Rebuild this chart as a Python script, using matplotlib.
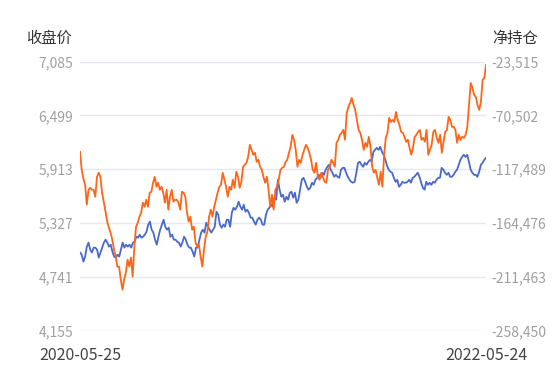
import pandas as pd
import numpy as np
import matplotlib
matplotlib.use('Agg')
import matplotlib.pyplot as plt

plt.rcParams['font.family'] = ['Noto Sans CJK SC', 'DejaVu Sans']

# ---------------- 数据 ----------------
start_date = '2020-05-25'
end_date = '2022-05-24'

# 收盘价（左轴）
close_price = [
    6101, 5905, 5808, 5742, 5525, 5688, 5710, 5688, 5688, 5612,
    5829, 5873, 5829, 5655, 5558, 5449, 5340, 5275, 5221, 5145,
    5036, 4960, 4851, 4851, 4710, 4601, 4710, 4786, 4927, 4851,
    4949, 4742, 5069, 5286, 5329, 5395, 5438, 5547, 5503, 5579,
    5503, 5655, 5666, 5764, 5829, 5721, 5764, 5688, 5721, 5655,
    5547, 5688, 5471, 5612, 5688, 5558, 5579, 5579, 5547, 5471,
    5666, 5655, 5612, 5438, 5340, 5395, 5253, 5286, 5112, 5069,
    5090, 4960, 4851, 5036, 5177, 5232, 5395, 5471, 5395, 5503,
    5579, 5655, 5721, 5742, 5873, 5797, 5721, 5612, 5721, 5688,
    5797, 5710, 5884, 5829, 5710, 5775, 5938, 5960, 5982, 6047,
    6177, 6123, 6069, 6090, 5992, 6014, 5938, 5905, 5829, 5764,
    5829, 5688, 5503, 5634, 5471, 5688, 5721, 5797, 5905, 5927,
    5938, 5992, 6014, 6090, 6156, 6286, 6232, 6123, 5938, 6014,
    5982, 6069, 6123, 6177, 6145, 6090, 6014, 5905, 5873, 5982,
    5829, 5797, 5873, 5829, 5775, 5764, 5905, 5938, 6014, 5982,
    5938, 6199, 6232, 6286, 6308, 6340, 6232, 6525, 6590, 6634,
    6688, 6612, 6558, 6449, 6340, 6308, 6232, 6123, 6199, 6156,
    6264, 6156, 5938, 5873, 5905, 5818, 5742, 5884, 5721, 6069,
    6253, 6308, 6471, 6427, 6449, 6427, 6536, 6449, 6395, 6319,
    6308, 6264, 6210, 6232, 6145, 6069, 6145, 6264, 6286, 6319,
    6340, 6232, 6253, 6210, 6340, 6069, 6123, 6177, 6319, 6340,
    6253, 6199, 6286, 6090, 6210, 6319, 6340, 6482, 6449, 6373,
    6373, 6340, 6199, 6286, 6232, 6264, 6253, 6286, 6373, 6612,
    6851, 6797, 6721, 6699, 6612, 6558, 6645, 6884, 6906, 7047,
]

# 净持仓（右轴）
net_position = [
    -190400, -192200, -198300, -193900, -185200, -181700, -187800, -190400, -186100, -186100,
    -187800, -194800, -190400, -186100, -181700, -179100, -181700, -185200, -183500, -189600,
    -193900, -194800, -192200, -193900, -187800, -181700, -186100, -183500, -185200, -183500,
    -186100, -181700, -180900, -176500, -177400, -174800, -177400, -176500, -174800, -172100,
    -166000, -163400, -170400, -173000, -179100, -183500, -176500, -170400, -166000, -161700,
    -167800, -170400, -168700, -176500, -174800, -179100, -179100, -180900, -181700, -185200,
    -181700, -176500, -179100, -183500, -186100, -186100, -189600, -193900, -186100, -186100,
    -179100, -173000, -170400, -173000, -164300, -167800, -170400, -173000, -170400, -167800,
    -154700, -157300, -166000, -168700, -166000, -167800, -161700, -161700, -167800, -155600,
    -151200, -153000, -150300, -146000, -150300, -153000, -148600, -154700, -153000, -155600,
    -159900, -159900, -163400, -166000, -161700, -159900, -161700, -166000, -166000, -157300,
    -153000, -151200, -148600, -150300, -142500, -144200, -126800, -135500, -141600, -139900,
    -146000, -141600, -144200, -138100, -137300, -142500, -138100, -146900, -144200, -135500,
    -126800, -125100, -128600, -132900, -135500, -133800, -129400, -131200, -126800, -125100,
    -122500, -125100, -120700, -122500, -118100, -115500, -113700, -118100, -120700, -124200,
    -122500, -124200, -125100, -118100, -116400, -116400, -120700, -124200, -126800, -128600,
    -129400, -128600, -120700, -112000, -111100, -113700, -115500, -112000, -113700, -111100,
    -109400, -111100, -102400, -100700, -98900, -100700, -98000, -102400, -105000, -109400,
    -114600, -118100, -119800, -120700, -125100, -128600, -126800, -132900, -131200, -128600,
    -129400, -129400, -128600, -126800, -129400, -125100, -124200, -122500, -120700, -124200,
    -129400, -133800, -135500, -128600, -131200, -129400, -131200, -128600, -129400, -126800,
    -125100, -125100, -116400, -118100, -120700, -122500, -120700, -124200, -124200, -122500,
    -119800, -118100, -113700, -109400, -106800, -105000, -106800, -105000, -111100, -118100,
    -120700, -122500, -122500, -124200, -119800, -113700, -112000, -109400, -107600,
]

left_ticks = [4155, 4741, 5327, 5913, 6499, 7085]
right_ticks = [-258450, -211463, -164476, -117489, -70502, -23515]

price_dates = pd.date_range(start_date, end_date, periods=len(close_price))
pos_dates = pd.date_range(start_date, end_date, periods=len(net_position))

# ---------------- 绘图 ----------------
fig = plt.figure(figsize=(5.53, 3.77), dpi=100)
ax1 = fig.add_axes([80 / 553, 46.5 / 377, 406 / 553, 269 / 377])
ax2 = ax1.twinx()

# 右轴在下层（网格 + 蓝线），左轴在上层（橙线）
ax1.set_zorder(ax2.get_zorder() + 1)
ax1.patch.set_visible(False)

ax2.plot(pos_dates, net_position, color='#4A69CC', linewidth=1.3)
ax1.plot(price_dates, close_price, color='#FF6517', linewidth=1.3)

ax1.set_ylim(left_ticks[0], left_ticks[-1])
ax2.set_ylim(right_ticks[0], right_ticks[-1])
ax1.set_yticks(left_ticks)
ax2.set_yticks(right_ticks)
ax1.set_yticklabels([f'{v:,}' for v in left_ticks])
ax2.set_yticklabels([f'{v:,}' for v in right_ticks])

ax2.grid(axis='y', color='#E6E7F4', linewidth=1.0)
ax2.grid(axis='x', visible=False)
ax1.set_xlim(pd.Timestamp(start_date), pd.Timestamp(end_date))

ax1.set_xticks([pd.Timestamp(start_date), pd.Timestamp(end_date)])
ax1.set_xticklabels([start_date, end_date])

for ax in (ax1, ax2):
    for s in ax.spines.values():
        s.set_visible(False)

ax1.tick_params(axis='y', length=0, pad=5, labelsize=10, labelcolor='#A0A0A0')
ax2.tick_params(axis='y', length=0, pad=4, labelsize=10, labelcolor='#A0A0A0')
ax1.tick_params(axis='x', length=0, pad=12, labelsize=11.5, labelcolor='#444444')

fig.text(49 / 553, 1 - 38 / 377, '收盘价', ha='center', va='center', fontsize=11, color='#333333')
fig.text(515 / 553, 1 - 38 / 377, '净持仓', ha='center', va='center', fontsize=11, color='#333333')

fig.savefig('out.png', dpi=100)
